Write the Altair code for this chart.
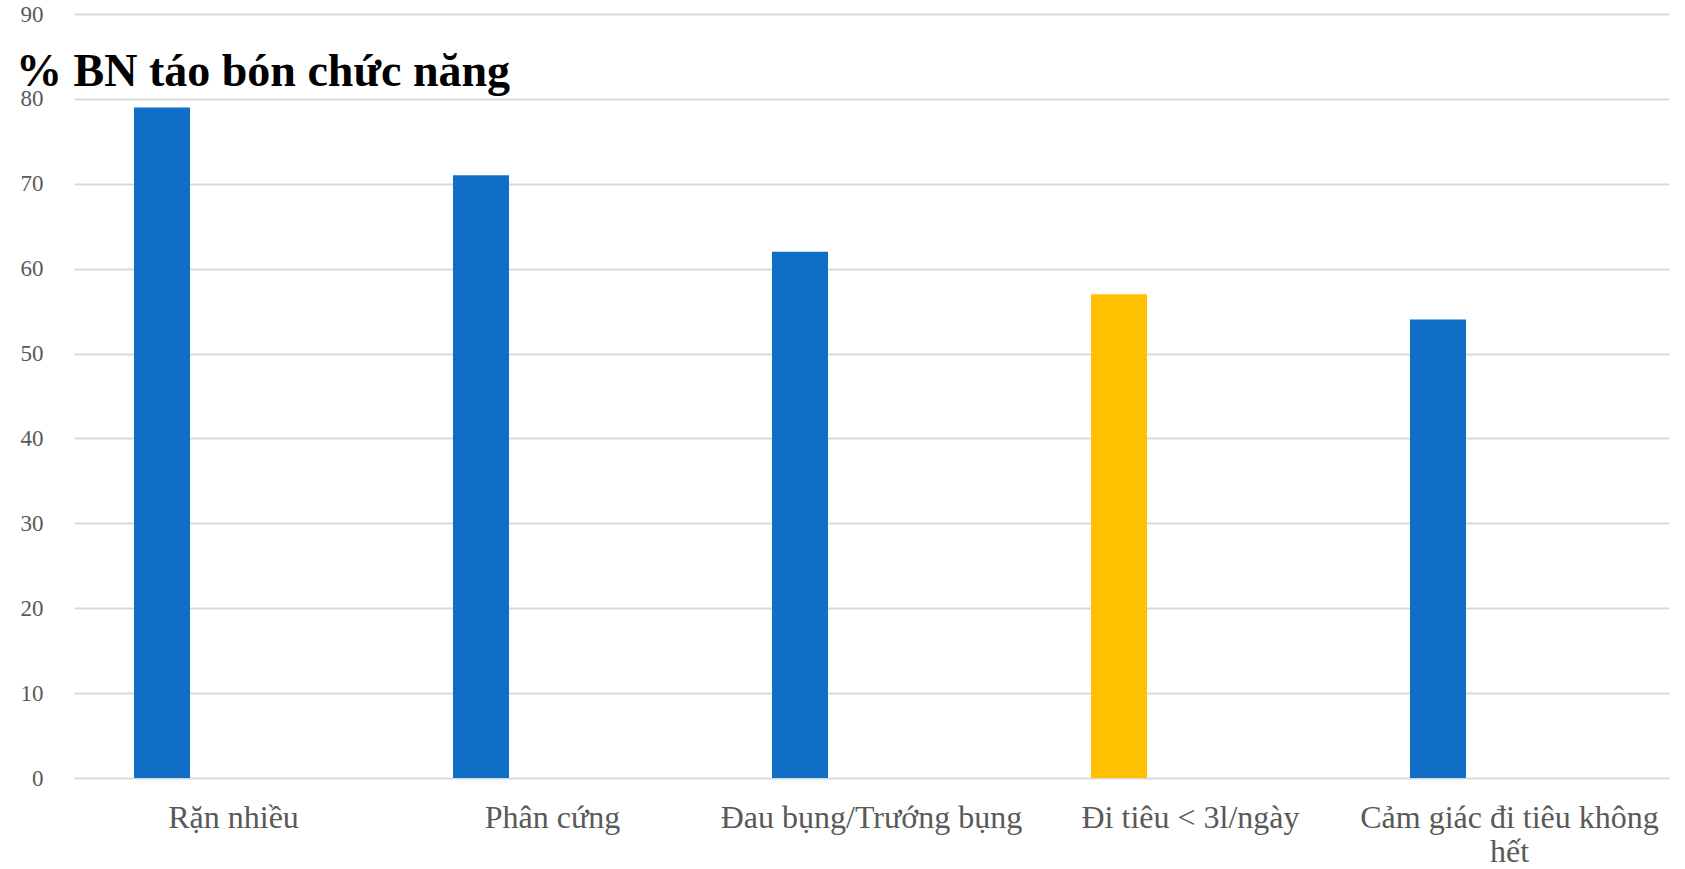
import altair as alt
import pandas as pd

categories = ["Rặn nhiều", "Phân cứng", "Đau bụng/Trướng bụng", "Đi tiêu < 3l/ngày", "Cảm giác đi tiêu không hết"]
values = [79, 71, 62, 57, 54]
highlight = "Đi tiêu < 3l/ngày"
y_ticks = [0, 10, 20, 30, 40, 50, 60, 70, 80, 90]
title_text = "% BN táo bón chức năng"

df = pd.DataFrame({"category": categories, "value": values})

font = "Liberation Serif"
long_label = categories[4]
label_expr = (
    f"datum.label == '{long_label}' ? ['Cảm giác đi tiêu không', 'hết'] : datum.label"
)

bars = alt.Chart(df).mark_bar(width=56, xOffset=-71.5).encode(
    x=alt.X(
        "category:N",
        sort=categories,
        scale=alt.Scale(paddingInner=0, paddingOuter=0),
        axis=alt.Axis(
            title=None,
            domain=False,
            ticks=False,
            grid=False,
            labelAngle=0,
            labelFont=font,
            labelFontSize=32,
            labelColor="#595959",
            labelPadding=24,
            labelLineHeight=34,
            labelLimit=600,
            labelExpr=label_expr,
        ),
    ),
    y=alt.Y(
        "value:Q",
        scale=alt.Scale(domain=[0, 90], nice=False),
        axis=alt.Axis(
            title=None,
            values=y_ticks,
            domain=False,
            ticks=False,
            grid=True,
            gridColor="#D9D9D9",
            gridWidth=2,
            labelFont=font,
            labelFontSize=23,
            labelColor="#595959",
            labelPadding=31,
        ),
    ),
    color=alt.condition(
        alt.datum.category == highlight, alt.value("#FFC000"), alt.value("#0F6FC6")
    ),
)

title = alt.Chart(pd.DataFrame({"t": [title_text]})).mark_text(
    font=font,
    fontSize=46,
    fontWeight="bold",
    color="#000000",
    align="left",
    baseline="alphabetic",
).encode(text="t:N", x=alt.value(-58), y=alt.value(72))

chart = alt.layer(bars, title).properties(
    width=1595,
    height=764,
    background="white",
    autosize=alt.AutoSizeParams(type="none"),
    padding={"left": 74, "top": 14, "right": 16, "bottom": 91},
).configure_view(stroke=None)

chart.save("out.html", embed_options={"renderer": "svg", "actions": False})
